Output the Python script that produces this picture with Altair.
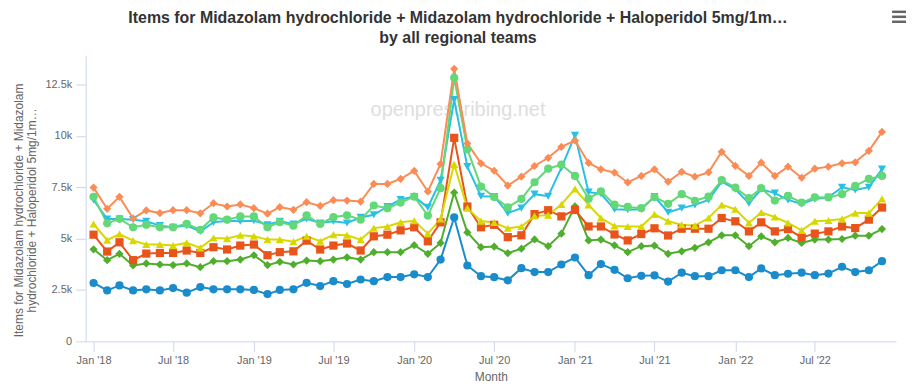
import json
import altair as alt
import pandas as pd

# ---------------- data (thousands of items) ----------------
months = pd.date_range("2018-01-01", periods=60, freq="MS").strftime("%Y-%m-%d").tolist()

regions = [
    "East of England",
    "London",
    "Midlands",
    "North East and Yorkshire",
    "North West",
    "South East",
    "South West",
]
colors = ["#1a8ccc", "#4fae2c", "#e8541a", "#d8d800", "#2ac0e6", "#62d878", "#fb8c55"]
shapes = ["circle", "diamond", "square", "triangle-up", "triangle-down", "circle", "diamond"]

east = [2.84, 2.48, 2.72, 2.48, 2.53, 2.48, 2.59, 2.37, 2.64, 2.53,
        2.53, 2.53, 2.50, 2.30, 2.50, 2.53, 2.85, 2.69, 2.93, 2.79,
        3.01, 2.93, 3.13, 3.13, 3.26, 3.13, 3.98, 6.03, 3.69, 3.17,
        3.12, 2.97, 3.56, 3.37, 3.37, 3.74, 4.08, 3.22, 3.76, 3.48,
        3.07, 3.19, 3.21, 2.91, 3.34, 3.17, 3.17, 3.46, 3.46, 3.13,
        3.55, 3.22, 3.29, 3.34, 3.22, 3.30, 3.63, 3.37, 3.46, 3.90]
london = [4.48, 3.95, 4.26, 3.69, 3.79, 3.74, 3.71, 3.79, 3.61, 3.90,
          3.90, 3.98, 4.19, 3.71, 3.87, 3.74, 3.93, 3.90, 3.98, 4.09,
          3.98, 4.34, 4.34, 4.34, 4.68, 4.26, 4.79, 7.24, 5.30, 4.58,
          4.61, 4.29, 4.51, 4.96, 4.63, 5.24, 6.57, 4.91, 4.95, 4.67,
          4.34, 4.63, 4.66, 4.26, 4.38, 4.55, 4.82, 5.16, 5.16, 4.63,
          5.11, 4.82, 5.03, 4.79, 4.95, 4.95, 4.98, 5.14, 5.14, 5.46]
midlands = [5.19, 4.37, 4.82, 3.95, 4.27, 4.30, 4.30, 4.42, 4.30, 4.58,
            4.47, 4.66, 4.71, 4.19, 4.34, 4.38, 4.90, 4.47, 4.66, 4.76,
            4.42, 5.11, 5.19, 5.40, 5.55, 4.87, 5.79, 9.90, 6.56, 5.55,
            5.67, 5.07, 5.16, 6.19, 6.38, 6.08, 6.39, 5.59, 5.59, 5.20,
            4.91, 5.22, 5.50, 5.15, 5.48, 5.48, 5.48, 6.00, 5.84, 5.35,
            5.79, 5.35, 5.46, 5.06, 5.24, 5.35, 5.59, 5.51, 5.92, 6.51]
ney = [5.71, 4.92, 5.22, 4.90, 4.71, 4.71, 4.66, 4.79, 4.55, 5.03,
       5.00, 5.16, 5.11, 4.95, 4.95, 4.85, 5.11, 4.87, 5.19, 5.16,
       4.95, 5.51, 5.59, 5.79, 5.87, 5.24, 5.95, 8.61, 6.48, 5.85,
       5.78, 5.50, 5.59, 6.10, 6.14, 6.66, 7.42, 6.64, 6.00, 5.61,
       5.59, 5.59, 6.18, 5.84, 5.67, 5.63, 6.00, 6.64, 6.43, 5.76,
       6.27, 6.05, 5.76, 5.40, 5.84, 5.88, 5.95, 6.24, 6.24, 6.93]
northwest = [6.88, 5.95, 5.95, 5.92, 5.84, 5.63, 5.55, 5.63, 5.35, 5.79,
             5.87, 5.84, 5.87, 5.67, 5.84, 5.71, 5.96, 5.76, 5.84, 5.76,
             6.03, 6.16, 6.56, 6.90, 7.04, 6.52, 7.84, 11.76, 8.50, 7.06,
             7.05, 6.24, 6.48, 7.16, 7.06, 8.44, 10.02, 7.26, 7.18, 6.43,
             6.40, 6.43, 7.04, 6.28, 6.48, 6.64, 6.88, 7.77, 7.40, 6.72,
             7.40, 7.21, 6.88, 6.69, 6.92, 7.01, 7.50, 7.37, 7.50, 8.38]
southeast = [7.03, 5.74, 5.96, 5.55, 5.67, 5.55, 5.55, 5.72, 5.43, 6.03,
             5.92, 6.08, 6.08, 5.55, 5.80, 5.63, 6.13, 5.71, 6.05, 6.13,
             5.92, 6.61, 6.48, 6.75, 7.04, 6.12, 7.45, 12.82, 9.34, 7.53,
             7.02, 6.52, 6.93, 7.74, 8.40, 8.60, 8.05, 6.94, 7.30, 6.65,
             6.54, 6.48, 7.02, 6.69, 7.16, 6.84, 7.04, 7.85, 7.48, 6.97,
             7.45, 6.85, 7.08, 6.75, 7.01, 7.00, 7.16, 7.56, 7.90, 8.05]
southwest = [7.48, 6.45, 7.03, 5.98, 6.37, 6.24, 6.38, 6.38, 6.23, 6.72,
             6.56, 6.66, 6.48, 6.21, 6.53, 6.40, 6.77, 6.59, 6.87, 6.85,
             6.80, 7.66, 7.66, 7.90, 8.29, 7.29, 8.63, 13.26, 9.63, 8.66,
             8.30, 7.58, 8.01, 8.53, 8.93, 9.46, 9.77, 8.68, 8.37, 8.21,
             7.73, 8.05, 8.37, 7.77, 8.25, 8.01, 8.22, 9.22, 8.54, 8.05,
             8.69, 8.05, 8.50, 7.96, 8.40, 8.50, 8.66, 8.71, 9.27, 10.19]
series_values = [east, london, midlands, ney, northwest, southeast, southwest]

x_tick_dates = [(y, m) for y in range(2018, 2023) for m in (1, 7)]
y_ticks = [0, 2500, 5000, 7500, 10000, 12500]
y_tick_labels = ["0", "2.5k", "5k", "7.5k", "10k", "12.5k"]

title_lines = [
    "Items for Midazolam hydrochloride + Midazolam hydrochloride + Haloperidol 5mg/1m\u2026",
    "by all regional teams",
]
y_title_lines = [
    "Items for Midazolam hydrochloride + Midazolam",
    "hydrochloride + Haloperidol 5mg/1m\u2026",
]

rows = []
for order, (name, vals) in enumerate(zip(regions, series_values)):
    for m, v in zip(months, vals):
        rows.append({"month": m, "region": name, "items": round(v * 1000), "ord": order})
df = pd.DataFrame(rows)

# ---------------- chart ----------------
FONT = "Liberation Sans"
W, H = 814, 287

x_enc = alt.X(
    "month:T",
    title="Month",
    scale=alt.Scale(
        type="utc",
        domain=[
            alt.DateTime(year=2017, month=12, date=14, utc=True),
            alt.DateTime(year=2023, month=1, date=2, utc=True),
        ],
    ),
    axis=alt.Axis(
        values=[alt.DateTime(year=y, month=m, date=1, utc=True) for y, m in x_tick_dates],
        format="%b '%y",
        labelFontSize=11,
        labelColor="#666666",
        labelFont=FONT,
        labelPadding=3,
        titleFont=FONT,
        titleFontSize=12,
        titleFontWeight="normal",
        titleColor="#666666",
        titlePadding=6,
        tickColor="#ccd6eb",
        domainColor="#ccd6eb",
        tickSize=10,
        grid=False,
    ),
)

y_enc = alt.Y(
    "items:Q",
    scale=alt.Scale(domain=[0, 13900], nice=False, zero=True),
    axis=alt.Axis(
        values=y_ticks,
        labelExpr=json.dumps(y_tick_labels) + "[round(datum.value / 2500)]",
        title=y_title_lines,
        labelFontSize=11,
        labelColor="#666666",
        labelFont=FONT,
        labelPadding=4,
        titleFont=FONT,
        titleFontSize=12,
        titleFontWeight="normal",
        titleColor="#666666",
        titleLineHeight=14,
        titlePadding=6,
        titleY=155,
        tickColor="#ccd6eb",
        domainColor="#ccd6eb",
        tickSize=10,
        grid=False,
    ),
)

color_enc = alt.Color("region:N", scale=alt.Scale(domain=regions, range=colors), legend=None)
shape_enc = alt.Shape("region:N", scale=alt.Scale(domain=regions, range=shapes), legend=None)

base = alt.Chart(df)

watermark = alt.Chart(pd.DataFrame({"t": ["openprescribing.net"]})).mark_text(
    font=FONT, fontSize=20, color="#dedede", align="center", baseline="middle"
).encode(x=alt.value(374), y=alt.value(55), text="t:N")

title_layers = []
for line, py in zip(title_lines, (-33, -13)):
    title_layers.append(
        alt.Chart(pd.DataFrame({"t": [line]})).mark_text(
            font=FONT, fontSize=16, fontWeight="bold", color="#333333",
            align="center", baseline="alphabetic"
        ).encode(x=alt.value(374), y=alt.value(py), text="t:N")
    )

lines = base.mark_line(strokeWidth=2).encode(
    x=x_enc, y=y_enc, color=color_enc, order=alt.Order("month:T")
)
points = base.mark_point(filled=True, size=68, opacity=1).encode(
    x=x_enc, y=y_enc, color=color_enc, shape=shape_enc
)

menu_layers = []
for py in (-44, -39, -34):
    menu_layers.append(
        alt.Chart(pd.DataFrame({"k": [0]})).mark_rule(color="#666666", strokeWidth=2.5).encode(
            x=alt.value(810), x2=alt.value(824), y=alt.value(py)
        )
    )

chart = alt.layer(watermark, lines, points, *title_layers, *menu_layers).properties(
    width=W,
    height=H,
    autosize=alt.AutoSizeParams(type="none"),
    padding={"left": 78, "top": 47, "right": 16, "bottom": 45},
    background="white",
).configure_view(stroke=None)

chart.save("out.html", embed_options={"renderer": "svg", "actions": False})
